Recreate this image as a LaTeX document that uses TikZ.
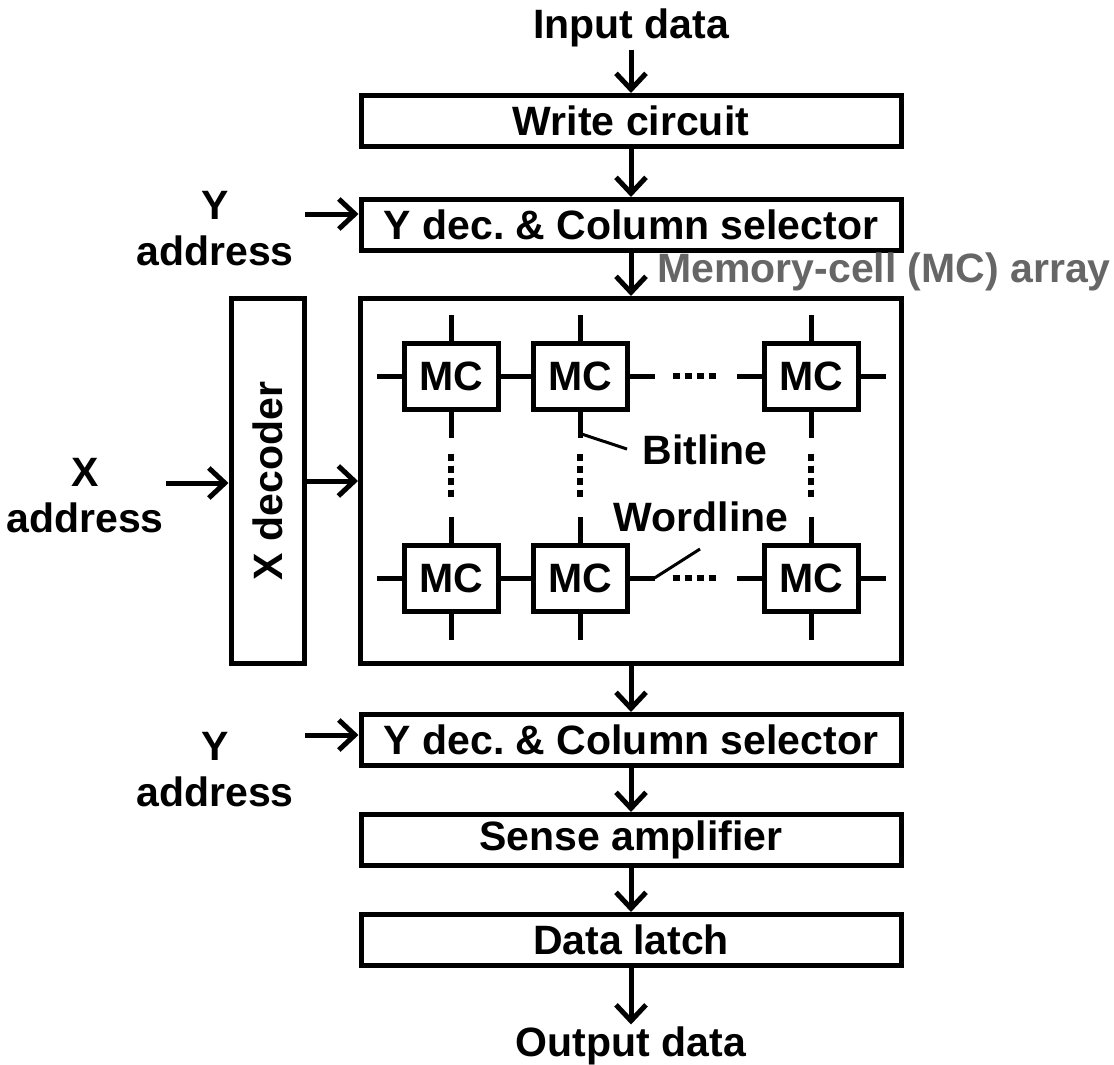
\documentclass[tikz,border=0pt]{standalone}
\usepackage{fontspec}
\setmainfont{Liberation Sans}
\usetikzlibrary{arrows.meta}

\begin{document}
\begin{tikzpicture}[x=0.5pt, y=-0.5pt, node distance=50pt,
    font=\fontsize{20.5}{23}\selectfont\bfseries,
    box/.style={draw, line width=2.5pt, inner sep=0pt},
    blk/.style={box, minimum width=270pt, minimum height=25.5pt},
    cell/.style={box, minimum width=47pt, minimum height=33pt},
    wire/.style={line width=2.5pt},
    dots/.style={line width=3pt, dash pattern=on 3.5pt off 2.5pt},
    lead/.style={line width=1.5pt},
    flow/.style={line width=2.5pt, -{Straight Barb[length=8pt, width=15pt]}},
    txt/.style={inner sep=1pt, align=center}]
  \useasboundingbox (0,0) rectangle (1114,1065);

  % data path
  \node[txt] (in) at (631,28) {Input data};
  \node[blk] (wr) at (631,121) {Write circuit};
  \node[blk] (yd1) at (631,225) {Y dec.\ \& Column selector};
  \node[box, minimum width=270.5pt, minimum height=182.5pt] (mca) at (631,481) {};
  \node[blk] (yd2) at (631,740) {Y dec.\ \& Column selector};
  \node[blk] (sa) [below of=yd2] {Sense amplifier};
  \node[blk] (dl) [below of=sa] {Data latch};
  \node[txt] (out) at (631,1046) {Output data};
  \node[txt, anchor=west, text=black!60] (mcl) at (655,272) {Memory-cell (MC) array};

  \draw[flow] (in) -- (wr);
  \draw[flow] (wr) -- (yd1);
  \draw[flow] (yd1) -- (mca);
  \draw[flow] (mca) -- (yd2);
  \draw[flow] (yd2) -- (sa);
  \draw[flow] (sa) -- (dl);
  \draw[flow] (dl) -- (out);

  % addresses
  \node[box, minimum width=36.5pt, minimum height=182.5pt] (xdec) at (267.5,481) {};
  \node[rotate=90] (xdl) at (xdec) {X decoder};
  \draw[flow] (xdec) -- (mca);

  \node[txt] (xa) at (85,496) {X\\address};
  \coordinate (xain) at (166,483);
  \draw[flow] (xain) -- (xain -| xdec.west);

  \node[txt] (ya1) at (215,229) {Y\\address};
  \coordinate (ya1in) at (305,214);
  \draw[flow] (ya1in) -- (ya1in -| yd1.west);

  \node[txt] (ya2) at (215,770) {Y\\address};
  \coordinate (ya2in) at (305,735);
  \draw[flow] (ya2in) -- (ya2in -| yd2.west);

  % memory cells
  \node[cell] (c11) at (451,376) {MC};
  \node[cell] (c12) at (580,376) {MC};
  \node[cell] (c13) at (811,376) {MC};
  \node[cell] (c21) at (451,578) {MC};
  \node[cell] (c22) at (580,578) {MC};
  \node[cell] (c23) at (811,578) {MC};

  \foreach \r in {1,2} {
    \draw[wire] (c\r1.west) -- ++(-25,0);
    \draw[wire] (c\r1) -- (c\r2);
    \draw[wire] (c\r2.east) -- ++(25,0);
    \draw[dots] (c\r2.east) ++(43,0) -- ++(43,0);
    \draw[wire] (c\r3.west) -- ++(-25,0);
    \draw[wire] (c\r3.east) -- ++(25,0);
  }
  \foreach \c in {1,2,3} {
    \draw[wire] (c1\c.north) -- ++(0,-26);
    \draw[wire] (c1\c.south) -- ++(0,26);
    \draw[dots] (c1\c.south) ++(0,42) -- ++(0,43);
    \draw[wire] (c2\c.north) -- ++(0,-26);
    \draw[wire] (c2\c.south) -- ++(0,26);
  }

  % labels
  \node[txt, anchor=west] (bl) at (640,450) {Bitline};
  \coordinate (blend) at (627,449);
  \draw[lead] (c12.south) ++(0,22) -- (blend);

  \node[txt] (wl) at (701,517) {Wordline};
  \coordinate (wlend) at (700,549);
  \draw[lead] (c22.east) ++(25,0) -- (wlend);
\end{tikzpicture}
\end{document}
